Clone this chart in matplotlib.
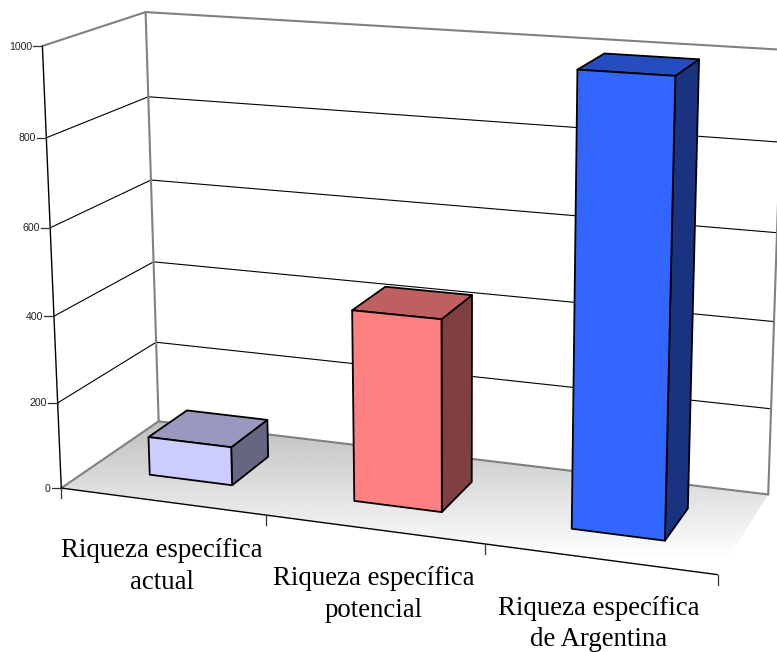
import numpy as np
import matplotlib
matplotlib.use("Agg")
import matplotlib.pyplot as plt
from matplotlib.patches import Polygon

# chart values
categories = ["Riqueza específica\nactual",
              "Riqueza específica\npotencial",
              "Riqueza específica\nde Argentina"]
values = [90, 437, 995]
front_colors = ["#CCCCFF", "#FF8080", "#3366FF"]
z_ticks = [0, 200, 400, 600, 800, 1000]

Z_MAX = z_ticks[-1]
N_CAT = len(categories)
BAR_PAD = 0.295       # gap between a bar and its category slot, same in depth


def fit_camera():
    # world point (category, depth, value) -> pixel, solved for the 3x4 projection
    world = [(0, 0, 0), (1, 0, 0), (2, 0, 0), (3, 0, 0),
             (0, 1, 0), (3, 1, 0),
             (0, 0, 200), (0, 0, 400), (0, 0, 600), (0, 0, 800), (0, 0, 1000),
             (0, 1, 600), (0, 1, 800), (0, 1, 1000),
             (3, 1, 200), (3, 1, 400), (3, 1, 600), (3, 1, 800), (3, 1, 1000)]
    pixel = [(62, 488), (266, 515), (485, 545), (717, 574.5),
             (158, 421), (769, 494),
             (58, 403), (54, 316), (49.5, 228), (46.5, 137.5), (42.5, 45.5),
             (151, 181), (148, 96.7), (146, 12),
             (771, 408), (774, 321.7), (777, 233.5), (780, 142.3), (783, 49.5)]
    rows, rhs = [], []
    for (x, y, z), (px, py) in zip(world, pixel):
        rows.append([x, y, z, 1, 0, 0, 0, 0, -px * x, -px * y, -px * z])
        rows.append([0, 0, 0, 0, x, y, z, 1, -py * x, -py * y, -py * z])
        rhs += [px, py]
    p = np.linalg.lstsq(np.array(rows, float), np.array(rhs, float), rcond=None)[0]
    return np.append(p, 1).reshape(3, 4)


camera = fit_camera()


def project(x, y, z):
    u, v, w = camera @ np.array([x, y, z, 1.0])
    return u / w, v / w


def shade(color, factor):
    rgb = np.array(matplotlib.colors.to_rgb(color))
    return tuple(rgb * factor)


def wall_line(ax, start, end, **kw):
    x0, y0 = project(*start)
    x1, y1 = project(*end)
    ax.plot([x0, x1], [y0, y1], solid_capstyle="round", **kw)


def draw_floor(ax):
    corners = [project(0, 0, 0), project(N_CAT, 0, 0), project(N_CAT, 1, 0), project(0, 1, 0)]
    patch = Polygon(corners, closed=True, facecolor="none", edgecolor="none")
    ax.add_patch(patch)
    top = min(c[1] for c in corners)
    bottom = max(c[1] for c in corners)
    left = min(c[0] for c in corners)
    right = max(c[0] for c in corners)
    # the ramp runs out to white a little before the front edge
    ramp = np.clip(np.linspace(0.75, 1.03, 256), 0, 1).reshape(-1, 1)
    im = ax.imshow(ramp, cmap="gray", vmin=0, vmax=1, aspect="auto",
                   extent=[left, right, bottom, top], zorder=1)
    im.set_clip_path(patch)


def draw_walls(ax):
    grey = dict(color="#808080", lw=1.5, zorder=2)
    grid = dict(color="black", lw=0.8, zorder=2)
    for z in z_ticks[1:-1]:
        wall_line(ax, (0, 0, z), (0, 1, z), **grid)
        wall_line(ax, (0, 1, z), (N_CAT, 1, z), **grid)
    wall_line(ax, (0, 0, Z_MAX), (0, 1, Z_MAX), **grey)
    wall_line(ax, (0, 1, Z_MAX), (N_CAT, 1, Z_MAX), **grey)
    wall_line(ax, (0, 1, 0), (0, 1, Z_MAX), **grey)
    wall_line(ax, (N_CAT, 1, 0), (N_CAT, 1, Z_MAX), **grey)
    wall_line(ax, (0, 0, 0), (0, 1, 0), **grey)
    wall_line(ax, (0, 1, 0), (N_CAT, 1, 0), **grey)


def draw_axes(ax):
    line = dict(color="black", lw=1.0, zorder=3)
    wall_line(ax, (0, 0, 0), (0, 0, Z_MAX), **line)
    wall_line(ax, (0, 0, 0), (N_CAT, 0, 0), **line)
    for z in z_ticks:
        px, py = project(0, 0, z)
        ax.plot([px - 9.5, px], [py, py], color="#333333", lw=0.9, zorder=3)
        ax.text(px - 10.5, py + 0.5, str(z), ha="right", va="center",
                family="Liberation Sans", fontsize=7.6, color="#222222")
    for i in range(N_CAT + 1):
        px, py = project(i, 0, 0)
        ax.plot([px, px], [py, py + 10], color="#333333", lw=0.9, zorder=3)
    for i, label in enumerate(categories):
        px, py = project(i + 0.5, 0, 0)
        ax.text(px - 0.5, py + 37, label, ha="center", va="top", multialignment="center",
                family="Liberation Serif", fontsize=19.4, linespacing=1.34, color="black")


def draw_bar(ax, i, value, color):
    x0, x1 = i + BAR_PAD, i + 1 - BAR_PAD
    y0, y1 = BAR_PAD, 1 - BAR_PAD
    faces = [
        ([(x1, y0, 0), (x1, y1, 0), (x1, y1, value), (x1, y0, value)], shade(color, 0.5)),
        ([(x0, y0, value), (x1, y0, value), (x1, y1, value), (x0, y1, value)], shade(color, 0.75)),
        ([(x0, y0, 0), (x1, y0, 0), (x1, y0, value), (x0, y0, value)], color),
    ]
    for corners, face in faces:
        ax.add_patch(Polygon([project(*c) for c in corners], closed=True, facecolor=face,
                             edgecolor="black", lw=1.3, joinstyle="round", zorder=4 + i))


def main():
    fig = plt.figure(figsize=(7.77, 6.52), dpi=100)
    ax = fig.add_axes([0, 0, 1, 1])
    draw_floor(ax)
    draw_walls(ax)
    draw_axes(ax)
    for i, (value, color) in enumerate(zip(values, front_colors)):
        draw_bar(ax, i, value, color)
    ax.set_xlim(0, 777)
    ax.set_ylim(652, 0)
    ax.axis("off")
    fig.savefig("out.png", dpi=100)


if __name__ == "__main__":
    main()
